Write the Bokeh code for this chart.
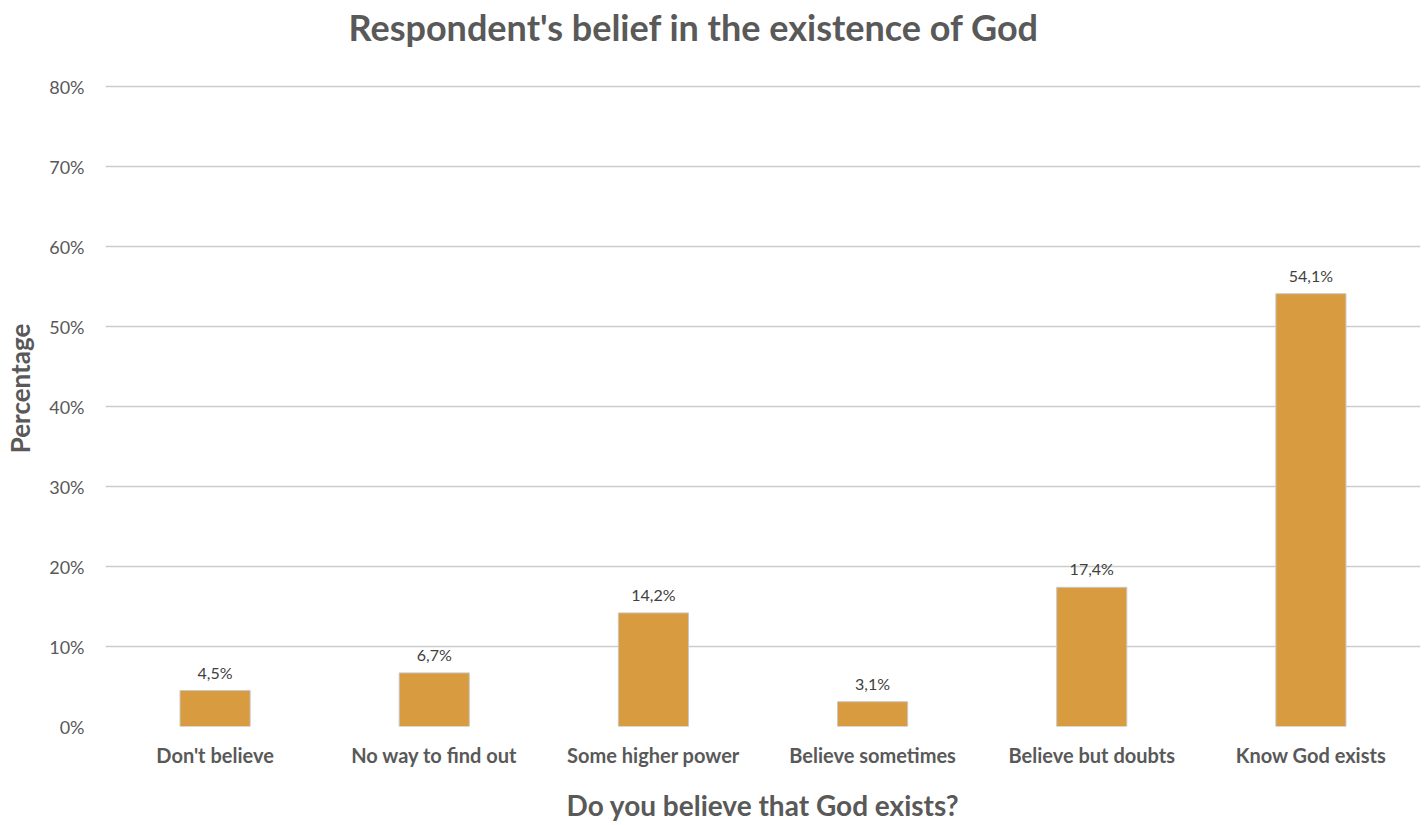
from bokeh.plotting import figure
from bokeh.models import ColumnDataSource, FactorRange, Range1d, PrintfTickFormatter, FixedTicker
from bokeh.core.properties import value
from bokeh.embed import file_html
from bokeh.resources import INLINE

categories = ["Don't believe", "No way to find out", "Some higher power",
              "Believe sometimes", "Believe but doubts", "Know God exists"]
percentages = [4.5, 6.7, 14.2, 3.1, 17.4, 54.1]
value_labels = ["4,5%", "6,7%", "14,2%", "3,1%", "17,4%", "54,1%"]
y_ticks = [0, 10, 20, 30, 40, 50, 60, 70, 80]

FONT = "Lato"
GREY = "#595959"

src = ColumnDataSource(dict(cat=categories, val=percentages, lab=value_labels))

p = figure(width=1427, height=825, x_range=FactorRange(*categories),
           y_range=Range1d(0, 84.5), output_backend="svg", toolbar_location=None,
           min_border_left=105, min_border_right=7, min_border_top=50, min_border_bottom=99)

p.title.text = "Respondent's belief in the existence of God"
p.title.align = "left"
p.title.offset = 243
p.title.standoff = 4
p.title.text_font = FONT
p.title.text_font_size = "36px"
p.title.text_font_style = "bold"
p.title.text_color = GREY

p.vbar(x="cat", top="val", width=0.32, source=src, fill_color="#D99B40",
       line_color="#c8c8c8", line_width=1)
p.text(x="cat", y="val", text="lab", source=src, text_align="center",
       text_baseline="bottom", y_offset=-9, text_font=value(FONT),
       text_font_size="16px", text_color="#404040")

p.outline_line_color = None
p.xgrid.grid_line_color = None
p.ygrid.grid_line_color = "#cccccc"
p.ygrid.grid_line_width = 1.5

p.yaxis.ticker = FixedTicker(ticks=y_ticks)
p.yaxis.formatter = PrintfTickFormatter(format="%d%%")
p.yaxis.axis_line_color = None
p.yaxis.major_tick_line_color = None
p.yaxis.minor_tick_line_color = None
p.yaxis.major_label_text_font = FONT
p.yaxis.major_label_text_font_size = "18px"
p.yaxis.major_label_text_color = GREY
p.yaxis.major_label_standoff = 15
p.yaxis.axis_label = "Percentage"
p.yaxis.axis_label_text_font = FONT
p.yaxis.axis_label_text_font_size = "26px"
p.yaxis.axis_label_text_font_style = "bold"
p.yaxis.axis_label_text_color = GREY
p.yaxis.axis_label_standoff = 10

p.xaxis.axis_line_color = None
p.xaxis.major_tick_line_color = None
p.xaxis.minor_tick_line_color = None
p.xaxis.major_label_text_font = FONT
p.xaxis.major_label_text_font_size = "20px"
p.xaxis.major_label_text_font_style = "bold"
p.xaxis.major_label_text_color = GREY
p.xaxis.major_label_standoff = 10
p.xaxis.axis_label = "Do you believe that God exists?"
p.xaxis.axis_label_text_font = FONT
p.xaxis.axis_label_text_font_size = "28px"
p.xaxis.axis_label_text_font_style = "bold"
p.xaxis.axis_label_text_color = GREY
p.xaxis.axis_label_standoff = 18

open("out.html", "w").write(file_html(p, INLINE))
